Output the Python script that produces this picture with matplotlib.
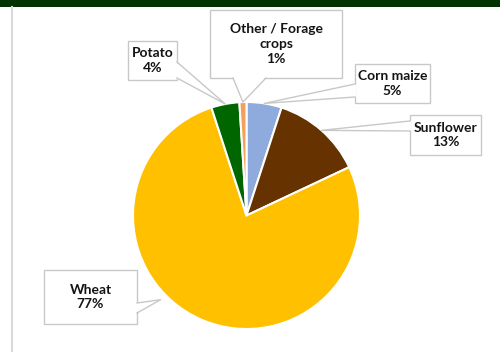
import matplotlib
matplotlib.use("Agg")
import matplotlib.pyplot as plt
from matplotlib.patches import Rectangle, Polygon
import numpy as np

# crop shares (percent), clockwise from 12 o'clock
crops = ["Corn maize", "Sunflower", "Wheat", "Potato", "Other / Forage\ncrops"]
shares = [5, 13, 77, 4, 1]
colors = ["#8FAADC", "#663300", "#FFC000", "#006600", "#F4A05A"]

W, H = 500, 352

# callout layout in pixel units (x0, y_top, x1, y_bottom), pointer base on box edge,
# and where along the slice the pointer lands
boxes = {
    "Corn maize": dict(box=(355, 64, 430, 103), base=[(355, 84), (355, 97)], frac=0.5, rad=1.0),
    "Sunflower": dict(box=(410, 115, 481, 155), base=[(410, 121), (410, 131)], frac=0.5, rad=1.0),
    "Wheat": dict(box=(44, 270, 137, 324), base=[(137, 303), (137, 313)], frac=0.42, rad=1.06),
    "Potato": dict(box=(128, 41, 177, 80), base=[(177, 62), (177, 78)], frac=0.5, rad=1.0),
    "Other / Forage\ncrops": dict(box=(210, 10, 342, 78), base=[(233, 78), (266, 78)], frac=0.5, rad=1.0),
}

center_px = (246.5, 215.5)
radius_px = 113.5


def py(y):
    return H - y


fig = plt.figure(figsize=(5.0, 3.52), dpi=100)
ax = fig.add_axes([0, 0, 1, 1])

wedges, _ = ax.pie(shares, colors=colors, startangle=90, counterclock=False,
                   center=(center_px[0], py(center_px[1])), radius=radius_px,
                   wedgeprops=dict(edgecolor="white", linewidth=1.5))

ax.set_xlim(0, W)
ax.set_ylim(0, H)
ax.set_aspect("equal")
ax.axis("off")

# dark green strip along the top and the frame line on the left
ax.add_patch(Rectangle((0, py(7)), W, 7, facecolor="#003300", edgecolor="none", zorder=1))
ax.plot([11.5, 11.5], [py(7), 0], color="#D9D9D9", lw=1.5, zorder=1)

grey = "#C8C8C8"
for name, share, w in zip(crops, shares, wedges):
    c = boxes[name]
    x0, y0, x1, y1 = c["box"]
    ax.add_patch(Rectangle((x0, py(y1)), x1 - x0, y1 - y0, facecolor="white",
                           edgecolor=grey, lw=1.0, zorder=3))

    ang = np.deg2rad(w.theta1 + c["frac"] * (w.theta2 - w.theta1))
    cx, cy = w.center
    tip = (cx + c["rad"] * w.r * np.cos(ang), cy + c["rad"] * w.r * np.sin(ang))
    (bx0, by0), (bx1, by1) = c["base"]
    b0 = (bx0, py(by0))
    b1 = (bx1, py(by1))
    # nudge the fill a little into the box so the border is opened there
    dx = 1.5 if bx0 == x0 else (-1.5 if bx0 == x1 else 0)
    dy = 1.5 if by0 == y1 and by1 == y1 else 0
    ax.add_patch(Polygon([(b0[0] + dx, b0[1] + dy), tip, (b1[0] + dx, b1[1] + dy)],
                         closed=True, facecolor="white", edgecolor="none", zorder=4))
    ax.plot([b0[0], tip[0], b1[0]], [b0[1], tip[1], b1[1]], color=grey, lw=1.0, zorder=5)

    ax.text((x0 + x1) / 2, py((y0 + y1) / 2), f"{name}\n{share}%", ha="center", va="center",
            fontsize=10, fontweight="bold", family="Lato", color="#141414",
            linespacing=1.3, zorder=6)

fig.savefig("out.png", dpi=100)
